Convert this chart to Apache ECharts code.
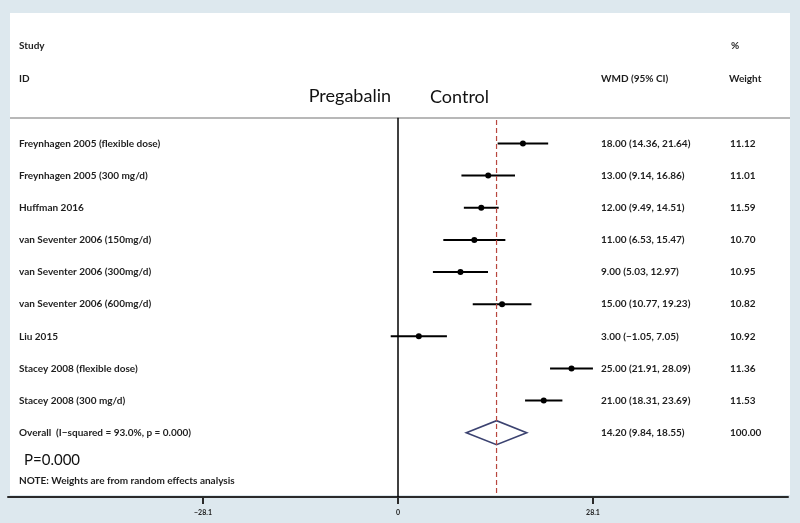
<!DOCTYPE html>
<html>
<head>
<meta charset="utf-8">
<script src="https://cdn.jsdelivr.net/npm/echarts@6/dist/echarts.min.js"></script>
<style>
  html, body { margin: 0; padding: 0; background: #dde8ee; }
  #chart { width: 800px; height: 523px; }
</style>
</head>
<body>
<div id="chart"></div>
<script>
// study rows, top to bottom
var studies = [
  "Freynhagen 2005 (flexible dose)",
  "Freynhagen 2005 (300 mg/d)",
  "Huffman 2016",
  "van Seventer 2006 (150mg/d)",
  "van Seventer 2006 (300mg/d)",
  "van Seventer 2006 (600mg/d)",
  "Liu 2015",
  "Stacey 2008 (flexible dose)",
  "Stacey 2008 (300 mg/d)"
];
var wmd = [18.0, 13.0, 12.0, 11.0, 9.0, 15.0, 3.0, 25.0, 21.0];
var lower = [14.36, 9.14, 9.49, 6.53, 5.03, 10.77, -1.05, 21.91, 18.31];
var upper = [21.64, 16.86, 14.51, 15.47, 12.97, 19.23, 7.05, 28.09, 23.69];
var weights = [11.12, 11.01, 11.59, 10.70, 10.95, 10.82, 10.92, 11.36, 11.53];

var overallLabel = "Overall  (I\u2212squared = 93.0%, p = 0.000)";
var overallEst = 14.20;
var overallLower = 9.84;
var overallUpper = 18.55;
var overallWeight = 100.0;

var xTicks = [-28.1, 0, 28.1];

var font = "Lato, 'Open Sans', sans-serif";
var txtColor = "#1e1e1e";

function fmt(v) {
  return (v < 0 ? "\u2212" : "") + Math.abs(v).toFixed(2);
}

var rows = [];
for (var i = 0; i < studies.length; i++) {
  rows.push([i, wmd[i], lower[i], upper[i], weights[i]]);
}

function rowText(x, y, s) {
  return {
    type: "text",
    x: x,
    y: y,
    style: { text: s, font: "bold 10px " + font, fill: txtColor, verticalAlign: "middle" }
  };
}

var chart = echarts.init(document.getElementById("chart"));

chart.setOption({
  backgroundColor: "#dde8ee",
  animation: false,
  grid: { left: 8, right: 12, top: 13, bottom: 26 },
  xAxis: {
    type: "value",
    min: -56.2,
    max: 56.2,
    splitLine: { show: false },
    axisLine: { onZero: false, lineStyle: { color: "#2a2a2a", width: 2 } },
    axisTick: { show: true, customValues: xTicks, length: 7, lineStyle: { color: "#2a2a2a", width: 2 } },
    axisLabel: {
      customValues: xTicks,
      fontSize: 7,
      fontWeight: "bold",
      color: "#222",
      fontFamily: font,
      margin: 12,
      formatter: function (v) { return v === 0 ? "0" : v.toFixed(1).replace("-", "\u2212"); }
    }
  },
  yAxis: {
    type: "value",
    inverse: true,
    min: -4.06,
    max: 11,
    show: false
  },
  graphic: {
    elements: [
      { type: "rect", z: -100, shape: { x: 10, y: 13, width: 780, height: 482 }, style: { fill: "#ffffff" } },
      { type: "line", shape: { x1: 10, y1: 118, x2: 790, y2: 118 }, style: { stroke: "#a0a0a0", lineWidth: 1.5 } },
      { type: "text", x: 19, y: 46, style: { text: "Study", font: "bold 10px " + font, fill: txtColor, verticalAlign: "middle" } },
      { type: "text", x: 19, y: 79, style: { text: "ID", font: "bold 10px " + font, fill: txtColor, verticalAlign: "middle" } },
      { type: "text", x: 731, y: 46, style: { text: "%", font: "bold 10px " + font, fill: txtColor, verticalAlign: "middle" } },
      { type: "text", x: 601, y: 79, style: { text: "WMD (95% CI)", font: "bold 10px " + font, fill: txtColor, verticalAlign: "middle" } },
      { type: "text", x: 729, y: 79, style: { text: "Weight", font: "bold 10px " + font, fill: txtColor, verticalAlign: "middle" } },
      { type: "text", x: 391, y: 96, style: { text: "Pregabalin", font: "18px " + font, fill: "#111", align: "right", verticalAlign: "middle" } },
      { type: "text", x: 430, y: 97, style: { text: "Control", font: "18px " + font, fill: "#111", verticalAlign: "middle" } },
      { type: "text", x: 24, y: 460, style: { text: "P=0.000", font: "15px " + font, fill: "#111", verticalAlign: "middle" } },
      { type: "text", x: 19, y: 481, style: { text: "NOTE: Weights are from random effects analysis", font: "bold 10px " + font, fill: txtColor, verticalAlign: "middle" } }
    ]
  },
  series: [
    {
      // line of no effect
      type: "line",
      symbol: "none",
      silent: true,
      data: [[0, -0.8], [0, 11]],
      lineStyle: { color: "#000", width: 1.5 }
    },
    {
      // overall estimate
      type: "line",
      symbol: "none",
      silent: true,
      data: [[overallEst, -0.73], [overallEst, 10.94]],
      lineStyle: { color: "#b8463e", width: 1.2, type: [5, 3] }
    },
    {
      type: "custom",
      data: rows,
      encode: { x: [1, 2, 3], y: 0 },
      renderItem: function (params, api) {
        var i = api.value(0);
        var c = api.coord([api.value(1), i]);
        var l = api.coord([api.value(2), i]);
        var h = api.coord([api.value(3), i]);
        var y = c[1];
        return {
          type: "group",
          children: [
            { type: "line", shape: { x1: l[0], y1: y, x2: h[0], y2: y }, style: { stroke: "#000", lineWidth: 2 } },
            { type: "circle", shape: { cx: c[0], cy: y, r: 3 }, style: { fill: "#000" } },
            rowText(19, y, studies[i]),
            rowText(601, y, fmt(api.value(1)) + " (" + fmt(api.value(2)) + ", " + fmt(api.value(3)) + ")"),
            rowText(730, y, api.value(4).toFixed(2))
          ]
        };
      }
    },
    {
      type: "custom",
      data: [[studies.length, overallEst, overallLower, overallUpper, overallWeight]],
      encode: { x: [1, 2, 3], y: 0 },
      renderItem: function (params, api) {
        var i = api.value(0);
        var c = api.coord([api.value(1), i]);
        var l = api.coord([api.value(2), i]);
        var h = api.coord([api.value(3), i]);
        var y = c[1];
        return {
          type: "group",
          children: [
            {
              type: "polygon",
              shape: { points: [[l[0], y], [c[0], y - 12], [h[0], y], [c[0], y + 12]] },
              style: { fill: "none", stroke: "#3b4270", lineWidth: 1.6 }
            },
            rowText(19, y, overallLabel),
            rowText(601, y, fmt(api.value(1)) + " (" + fmt(api.value(2)) + ", " + fmt(api.value(3)) + ")"),
            rowText(730, y, api.value(4).toFixed(2))
          ]
        };
      }
    }
  ]
});
</script>
</body>
</html>
